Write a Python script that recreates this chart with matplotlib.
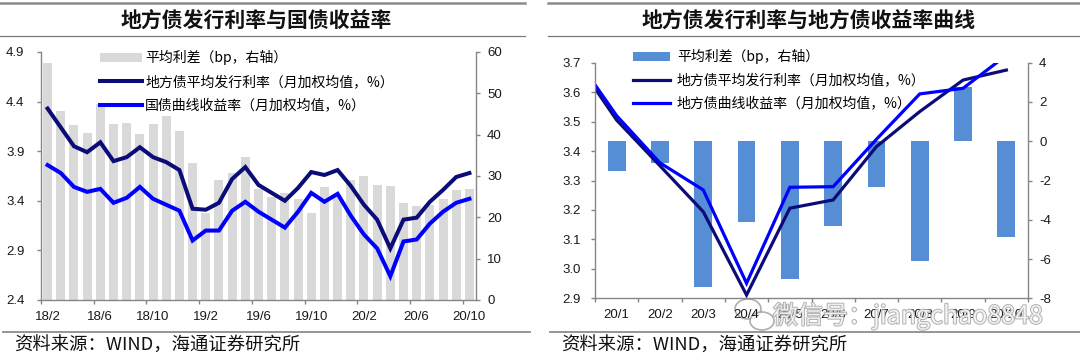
import matplotlib
matplotlib.use('Agg')
import matplotlib.pyplot as plt
from matplotlib.lines import Line2D
from matplotlib.patches import Ellipse, Patch
import matplotlib.patheffects as pe
import numpy as np

plt.rcParams['font.family'] = ['Liberation Sans', 'Noto Sans CJK SC']
plt.rcParams['axes.unicode_minus'] = False

CJK = ['Noto Sans CJK SC', 'DejaVu Sans']

# ---------------- data: left chart ----------------
months_l = ['18/2', '18/3', '18/4', '18/5', '18/6', '18/7', '18/8', '18/9', '18/10', '18/11', '18/12',
            '19/1', '19/2', '19/3', '19/4', '19/5', '19/6', '19/7', '19/8', '19/9', '19/10', '19/11', '19/12',
            '20/1', '20/2', '20/3', '20/4', '20/5', '20/6', '20/7', '20/8', '20/9', '20/10']
spread_l = [57.4, 45.8, 42.3, 40.5, 47.5, 42.6, 42.8, 40.2, 42.6, 44.4, 41.0,
            33.1, 21.0, 29.0, 30.7, 34.5, 26.8, 25.0, 26.0, 24.4, 21.1, 27.4, 25.0,
            29.0, 29.9, 27.8, 27.6, 23.4, 22.8, 23.0, 24.4, 26.5, 26.9]
local_issue_l = [4.33, 4.14, 3.95, 3.89, 3.99, 3.80, 3.84, 3.94, 3.84, 3.79, 3.71,
                 3.32, 3.31, 3.38, 3.62, 3.74, 3.56, 3.48, 3.40, 3.53, 3.69, 3.66, 3.71,
                 3.55, 3.36, 3.21, 2.92, 3.21, 3.23, 3.39, 3.51, 3.64, 3.68]
treasury_l = [3.76, 3.68, 3.54, 3.49, 3.52, 3.38, 3.43, 3.54, 3.42, 3.36, 3.30,
              3.00, 3.10, 3.10, 3.30, 3.39, 3.29, 3.21, 3.13, 3.29, 3.48, 3.39, 3.47,
              3.25, 3.06, 2.92, 2.64, 2.99, 3.01, 3.17, 3.29, 3.38, 3.42]
xlabels_l = ['18/2', '18/6', '18/10', '19/2', '19/6', '19/10', '20/2', '20/6', '20/10']
legend_l = ['平均利差（bp，右轴）', '地方债平均发行利率（月加权均值，%）', '国债曲线收益率（月加权均值，%）']
title_l = '地方债发行利率与国债收益率'

# ---------------- data: right chart ----------------
months_r = ['20/1', '20/2', '20/3', '20/4', '20/5', '20/6', '20/7', '20/8', '20/9', '20/10']
line_months_r = ['19/12', '20/1', '20/2', '20/3', '20/4', '20/5', '20/6', '20/7', '20/8', '20/9', '20/10']
spread_r = [-1.5, -1.1, -7.4, -4.1, -7.0, -4.3, -2.35, -6.1, 2.75, -4.9]
local_issue_r = [3.72, 3.505, 3.35, 3.194, 2.911, 3.206, 3.234, 3.415, 3.534, 3.641, 3.675]
local_curve_r = [3.73, 3.52, 3.36, 3.268, 2.951, 3.277, 3.279, 3.44, 3.594, 3.613, 3.725]
legend_r = ['平均利差（bp，右轴）', '地方债平均发行利率（月加权均值，%）', '地方债曲线收益率（月加权均值，%）']
title_r = '地方债发行利率与地方债收益率曲线'

source = '资料来源：WIND，海通证券研究所'
watermark = '微信号：jiangchao8848'

# ---------------- styling ----------------
W, H = 1080, 364
GRAY_SP = '#868686'
NAVY = '#0c0c78'
BLUE = '#0000ff'
TXT = '#1a1a1a'

fig = plt.figure(figsize=(W / 100, H / 100), dpi=100)


def fx(px):
    return px / W


def fy(py):
    return 1 - py / H


def style_axes(ax, ax2):
    for a in (ax, ax2):
        a.spines['top'].set_visible(False)
    ax.spines['right'].set_visible(False)
    ax2.spines['left'].set_visible(False)
    ax2.spines['bottom'].set_visible(False)
    for s in ('left', 'bottom'):
        ax.spines[s].set_color(GRAY_SP)
        ax.spines[s].set_linewidth(1.0)
    ax2.spines['right'].set_color(GRAY_SP)
    ax2.spines['right'].set_linewidth(1.0)
    ax.set_zorder(ax2.get_zorder() + 1)
    ax.patch.set_visible(False)


LEG_FS = 10

# ================= LEFT CHART =================
axL = fig.add_axes([fx(41), fy(300), fx(435), (300 - 52) / H])
axL2 = axL.twinx()
style_axes(axL, axL2)

xl = np.arange(len(months_l))
axL2.bar(xl, spread_l, width=0.68, color='#d9d9d9', zorder=1)
axL.plot(xl, local_issue_l, color=NAVY, lw=2.9, solid_joinstyle='miter')
axL.plot(xl, treasury_l, color=BLUE, lw=2.9, solid_joinstyle='miter')

axL.set_xlim(-0.5, len(months_l) - 0.5)
axL.set_ylim(2.4, 4.9)
axL.set_yticks([2.4, 2.9, 3.4, 3.9, 4.4, 4.9])
axL.set_yticklabels(['2.4', '2.9', '3.4', '3.9', '4.4', '4.9'])
axL2.set_ylim(0, 60)
axL2.set_yticks(range(0, 61, 10))

axL.set_xticks(np.arange(-0.5, len(months_l), 4))
axL.set_xticklabels([])
axL.set_xticks([months_l.index(m) for m in xlabels_l], minor=True)
axL.set_xticklabels(xlabels_l, minor=True)

axL.tick_params(axis='x', which='major', direction='out', length=3, width=1, color=GRAY_SP)
axL.tick_params(axis='x', which='minor', length=0, pad=8, labelsize=9.5, labelcolor=TXT)
axL.tick_params(axis='y', direction='out', length=3, width=1, color=GRAY_SP, pad=9,
                labelsize=9.5, labelcolor=TXT)
axL2.tick_params(axis='y', direction='out', length=3, width=1, color=GRAY_SP, pad=5,
                 labelsize=9.5, labelcolor=TXT)

handlesL = [Patch(facecolor='#d9d9d9', edgecolor='none'),
            Line2D([], [], color=NAVY, lw=2.9),
            Line2D([], [], color=BLUE, lw=2.9)]
fig.legend(handlesL, legend_l, loc='upper left', bbox_to_anchor=(fx(100), fy(50)),
           bbox_transform=fig.transFigure, frameon=False, prop={'family': CJK, 'size': LEG_FS},
           handlelength=3.0, handletextpad=0.25, labelspacing=0.7, borderpad=0,
           borderaxespad=0, handleheight=0.6)

# ================= RIGHT CHART =================
axR = fig.add_axes([fx(595), fy(298.3), fx(433), (298.3 - 62.7) / H])
axR2 = axR.twinx()
style_axes(axR, axR2)

xr = np.arange(len(months_r))
xr_line = np.arange(len(line_months_r)) - line_months_r.index(months_r[0])
axR2.bar(xr, spread_r, width=0.41, color='#558ed5', zorder=1)
axR.plot(xr_line, local_issue_r, color=NAVY, lw=2.3, solid_joinstyle='miter')
axR.plot(xr_line, local_curve_r, color=BLUE, lw=2.3, solid_joinstyle='miter')

axR.set_xlim(-0.5, len(months_r) - 0.5)
axR.set_ylim(2.9, 3.7)
rt = np.round(np.arange(2.9, 3.71, 0.1), 1)
axR.set_yticks(rt)
axR.set_yticklabels([f'{v:.1f}' for v in rt])
axR2.set_ylim(-8, 4)
axR2.set_yticks(range(-8, 5, 2))

axR.set_xticks(np.arange(-0.5, len(months_r), 1))
axR.set_xticklabels([])
axR.set_xticks(xr, minor=True)
axR.set_xticklabels(months_r, minor=True)

axR.tick_params(axis='x', which='major', direction='out', length=3, width=1, color=GRAY_SP)
axR.tick_params(axis='x', which='minor', length=0, pad=8, labelsize=9.5, labelcolor=TXT)
axR.tick_params(axis='y', direction='out', length=3, width=1, color=GRAY_SP, pad=7,
                labelsize=9.5, labelcolor=TXT)
axR2.tick_params(axis='y', direction='out', length=3, width=1, color=GRAY_SP, pad=5,
                 labelsize=9.5, labelcolor=TXT)

handlesR = [Patch(facecolor='#558ed5', edgecolor='none'),
            Line2D([], [], color=NAVY, lw=2.3),
            Line2D([], [], color=BLUE, lw=2.3)]
fig.legend(handlesR, legend_r, loc='upper left', bbox_to_anchor=(fx(633), fy(49)),
           bbox_transform=fig.transFigure, frameon=False, prop={'family': CJK, 'size': LEG_FS},
           handlelength=2.65, handletextpad=0.5, labelspacing=0.65, borderpad=0,
           borderaxespad=0, handleheight=0.6)

# ================= frame decorations =================
def hline(x0, x1, y, lw, color):
    fig.add_artist(Line2D([fx(x0), fx(x1)], [fy(y), fy(y)], transform=fig.transFigure,
                          color=color, lw=lw))

for (x0, x1) in ((0, 525), (548, 1080)):
    hline(x0, x1, 3, 1.8, '#8c8c8c')
    hline(x0, x1, 35.5, 0.9, '#7a7a7a')
for (x0, x1) in ((3, 530), (550, 1080)):
    hline(x0, x1, 331.5, 1.3, '#8c8c8c')

fig.text(fx(256), fy(21), title_l, family=CJK, weight='bold', fontsize=15,
         ha='center', va='center', color='#111111')
fig.text(fx(809), fy(21), title_r, family=CJK, weight='bold', fontsize=15,
         ha='center', va='center', color='#111111')
fig.text(fx(14), fy(346), source, family=CJK, fontsize=13.2, ha='left', va='center', color='#111111')
fig.text(fx(561), fy(346), source, family=CJK, fontsize=13.2, ha='left', va='center', color='#111111')

# watermark (semi-transparent, as in the source image)
fig.text(fx(773), fy(316), watermark, family=CJK, fontsize=18, ha='left',
         va='center', color='white', alpha=0.8,
         path_effects=[pe.withStroke(linewidth=1.3, foreground='#9a9a9a')])
for (cx, cy, w, h) in ((748, 309, 26, 20), (762, 321, 24, 18)):
    fig.add_artist(Ellipse((fx(cx), fy(cy)), fx(w), h / H, transform=fig.transFigure,
                           facecolor='white', edgecolor='#9a9a9a', lw=1.2, alpha=0.8))

fig.savefig('out.png', dpi=100)
